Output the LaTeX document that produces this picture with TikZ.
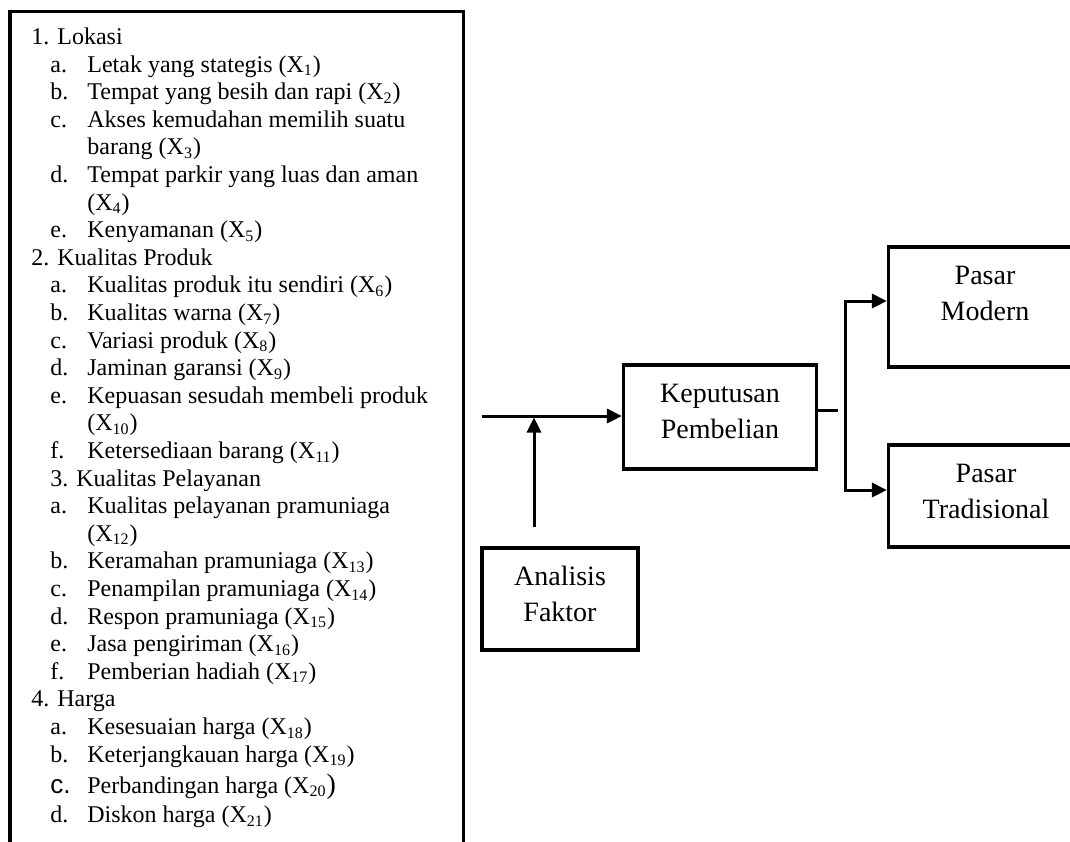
\documentclass[tikz,border=0pt]{standalone}
\usepackage{fontspec}
\setmainfont{Liberation Serif}
\newfontfamily\sanscc{Liberation Sans}
\usetikzlibrary{arrows.meta}
\begin{document}
\begin{tikzpicture}[x=0.5pt, y=-0.5pt, >={Triangle[length=7.5pt,width=7pt]},
  item/.style={anchor=base west, inner sep=0pt, font=\fontsize{12}{13.8}\selectfont},
  box/.style={draw, line width=1.6pt, minimum width=96.5pt},
  boxtext/.style={align=center, inner sep=0pt, font=\fontsize{14}{18}\selectfont},
  conn/.style={line width=1.5pt}]
\useasboundingbox (0,0) rectangle (1070,841);
\clip (0,0) rectangle (1070,841);
% list of factors, frame runs off the bottom
\draw[line width=1.6pt] (10,11.5) rectangle (463.5,900);
\foreach \x/\l/\t [count=\i from 0] in {
  31/{1. Lokasi}/{},
  50/a./{Letak yang stategis (X\textsubscript{1})},
  50/b./{Tempat yang besih dan rapi (X\textsubscript{2})},
  50/c./{Akses kemudahan memilih suatu},
  50/{}/{barang (X\textsubscript{3})},
  50/d./{Tempat parkir yang luas dan aman},
  50/{}/{(X\textsubscript{4})},
  50/e./{Kenyamanan (X\textsubscript{5})},
  31/{2. Kualitas Produk}/{},
  50/a./{Kualitas produk itu sendiri (X\textsubscript{6})},
  50/b./{Kualitas warna (X\textsubscript{7})},
  50/c./{Variasi produk (X\textsubscript{8})},
  50/d./{Jaminan garansi (X\textsubscript{9})},
  50/e./{Kepuasan sesudah membeli produk},
  50/{}/{(X\textsubscript{10})},
  50/f./{Ketersediaan barang (X\textsubscript{11})},
  50/{3. Kualitas Pelayanan}/{},
  50/a./{Kualitas pelayanan pramuniaga},
  50/{}/{(X\textsubscript{12})},
  50/b./{Keramahan pramuniaga (X\textsubscript{13})},
  50/c./{Penampilan pramuniaga (X\textsubscript{14})},
  50/d./{Respon pramuniaga (X\textsubscript{15})},
  50/e./{Jasa pengiriman (X\textsubscript{16})},
  50/f./{Pemberian hadiah (X\textsubscript{17})},
  31/{4. Harga}/{},
  50/a./{Kesesuaian harga (X\textsubscript{18})},
  50/b./{Keterjangkauan harga (X\textsubscript{19})}}
{
  \node[item] (lbl\i) at (\x, 44.5+27.6*\i) {\l};
  \node[item] (txt\i) at (87, 44.5+27.6*\i) {\t};
}
\node[item] (lbl27) at (50,793) {{\sanscc\fontsize{13}{14}\selectfont c.}};
\node[item] (txt27) at (87,793) {Perbandingan harga (X\textsubscript{20}{\fontsize{14}{14}\selectfont )}};
\node[item] (lbl28) at (50,822.5) {d.};
\node[item] (txt28) at (87,822.5) {Diskon harga (X\textsubscript{21})};
% boxes
\node[box, minimum height=52pt] (kep) at (720,417) {};
\node[boxtext] (keplbl) at (720,411.5) {Keputusan\\Pembelian};
\node[box, minimum height=60pt] (modern) at (985,307) {};
\node[boxtext] (modernlbl) at (985,293.5) {Pasar\\Modern};
\node[box, minimum height=51pt] (trad) at (985,496) {};
\node[boxtext] (tradlbl) at (986,491) {Pasar\\Tradisional};
\node[box, minimum width=78pt, minimum height=51pt] (analisis) at (560,599) {};
\node[boxtext] (analisislbl) at (560,593.6) {Analisis\\Faktor};
% connectors
\coordinate (in) at (482,416);
\draw[conn, ->] (in) -- (in -| kep.west);
\coordinate (up) at (534,527);
\draw[conn, ->, shorten >=0.75pt] (up) -- (up |- in);
\coordinate (stub) at (838,410);
\draw[conn] (stub -| kep.east) -- (stub);
\coordinate (br) at (845,410);
\draw[conn, ->] (br) |- (modern.west |- 0,301);
\draw[conn, ->] (br) |- (trad.west |- 0,490);
\end{tikzpicture}
\end{document}
